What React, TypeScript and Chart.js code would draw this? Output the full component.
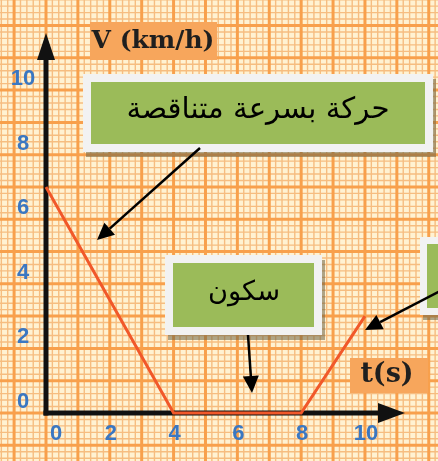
import React, { useEffect, useRef } from "react";
import { Chart, registerables } from "chart.js";

Chart.register(...registerables);

// ---- data ----
const TIMES = [0, 4, 8, 10];
const SPEEDS = [7, 0, 0, 3];
const X_TICKS = [0, 2, 4, 6, 8, 10];
const Y_TICKS = [0, 2, 4, 6, 8, 10];
const Y_TITLE = "V (km/h)";
const X_TITLE = "t(s)";
const LABEL_DECEL = "حركة بسرعة متناقصة";
const LABEL_REST = "سكون";

const W = 438;
const H = 461;

const BLUE = "#3a77c2";
const RED = "#f1582a";
const GREEN = "#9bbb59";
const FRAME = "#f2f2f2";
const TICK_FONT = "bold 22px 'Liberation Sans', Arial, sans-serif";

function arrow(ctx: CanvasRenderingContext2D, x1: number, y1: number, x2: number, y2: number, head: number, half: number, lw: number) {
  const ang = Math.atan2(y2 - y1, x2 - x1);
  const bx = x2 - head * Math.cos(ang);
  const by = y2 - head * Math.sin(ang);
  ctx.save();
  ctx.strokeStyle = "#000";
  ctx.fillStyle = "#000";
  ctx.lineWidth = lw;
  ctx.beginPath();
  ctx.moveTo(x1, y1);
  ctx.lineTo(bx, by);
  ctx.stroke();
  ctx.beginPath();
  ctx.moveTo(x2, y2);
  ctx.lineTo(bx + half * Math.sin(ang), by - half * Math.cos(ang));
  ctx.lineTo(bx - half * Math.sin(ang), by + half * Math.cos(ang));
  ctx.closePath();
  ctx.fill();
  ctx.restore();
}

function box(ctx: CanvasRenderingContext2D, x: number, y: number, w: number, h: number, b: number) {
  ctx.save();
  ctx.fillStyle = "rgba(110,100,70,0.55)";
  ctx.fillRect(x + 3, y + 5, w, h);
  ctx.fillStyle = FRAME;
  ctx.fillRect(x, y, w, h);
  ctx.fillStyle = GREEN;
  ctx.fillRect(x + b, y + b, w - 2 * b, h - 2 * b);
  ctx.restore();
}

const paperPlugin = {
  id: "paper",
  beforeDraw(chart: any) {
    const { ctx, scales } = chart;
    const xs = scales.x;
    const ys = scales.y;
    ctx.save();
    ctx.fillStyle = "#fff2d2";
    ctx.fillRect(0, 0, W, H);
    for (let pass = 0; pass < 2; pass++) {
      for (let i = -15; i <= 70; i++) {
        const major = i % 5 === 0;
        if ((pass === 0) === major) continue;
        const v = i / 5;
        ctx.strokeStyle = major ? "#f8a04c" : "#f6bd80";
        ctx.lineWidth = major ? 3 : 1.4;
        const px = xs.getPixelForValue(v);
        ctx.beginPath();
        ctx.moveTo(px, 0);
        ctx.lineTo(px, H);
        ctx.stroke();
        const py = ys.getPixelForValue(v);
        ctx.beginPath();
        ctx.moveTo(0, py);
        ctx.lineTo(W, py);
        ctx.stroke();
      }
    }
    ctx.restore();
  },
  beforeDatasetsDraw(chart: any) {
    const { ctx, scales } = chart;
    const xs = scales.x;
    const ys = scales.y;
    const x0 = xs.getPixelForValue(0);
    const y0 = ys.getPixelForValue(0);
    ctx.save();
    // tick labels from the scales
    ctx.fillStyle = BLUE;
    ctx.font = TICK_FONT;
    ctx.textAlign = "center";
    ctx.textBaseline = "middle";
    X_TICKS.forEach((v) => {
      const px = xs.getPixelForValue(v) + (v === 0 ? 10 : 1);
      ctx.fillText(String(v), px, y0 + 21);
    });
    Y_TICKS.forEach((v) => {
      ctx.fillText(String(v), x0 - 23, ys.getPixelForValue(v) - 11);
    });
    // title backgrounds
    ctx.fillStyle = "#f7a65c";
    ctx.fillRect(90, 22, 127, 38);
    ctx.fillRect(350, 358, 78, 35);
    ctx.fillStyle = "#1f1f1f";
    ctx.font = "bold 25px 'DejaVu Serif'";
    ctx.fillText(Y_TITLE, 153, 41);
    ctx.font = "bold 27px 'DejaVu Serif'";
    ctx.fillText(X_TITLE, 387, 375);
    // axes
    ctx.strokeStyle = "#111";
    ctx.fillStyle = "#111";
    ctx.lineWidth = 5;
    ctx.beginPath();
    ctx.moveTo(x0, y0 + 2.5);
    ctx.lineTo(x0, 58);
    ctx.stroke();
    ctx.beginPath();
    ctx.moveTo(x0 - 2.5, y0);
    ctx.lineTo(382, y0);
    ctx.stroke();
    ctx.beginPath();
    ctx.moveTo(x0, 33);
    ctx.lineTo(x0 + 9, 60);
    ctx.lineTo(x0 - 9, 60);
    ctx.closePath();
    ctx.fill();
    ctx.beginPath();
    ctx.moveTo(405, y0);
    ctx.lineTo(378, y0 - 10);
    ctx.lineTo(378, y0 + 10);
    ctx.closePath();
    ctx.fill();
    ctx.restore();
  },
  afterDraw(chart: any) {
    const { ctx } = chart;
    ctx.save();
    box(ctx, 83, 74, 350, 78, 8);
    box(ctx, 165, 255, 157, 80, 8);
    box(ctx, 420, 237, 60, 78, 7);
    ctx.fillStyle = "#000";
    ctx.textAlign = "center";
    ctx.textBaseline = "middle";
    ctx.direction = "rtl";
    ctx.font = "26px 'DejaVu Sans'";
    const w1 = ctx.measureText(LABEL_DECEL).width;
    const s1 = Math.min(34, (26 * 263) / w1);
    ctx.font = `${s1}px 'DejaVu Sans'`;
    ctx.fillText(LABEL_DECEL, 258, 110);
    ctx.font = "26px 'DejaVu Sans'";
    const w2 = ctx.measureText(LABEL_REST).width;
    const s2 = Math.min(34, (26 * 72) / w2);
    ctx.font = `${s2}px 'DejaVu Sans'`;
    ctx.fillText(LABEL_REST, 244, 293);
    ctx.restore();
    arrow(ctx, 200, 148, 97, 240, 17, 8, 2.5);
    arrow(ctx, 248, 335, 252, 393, 17, 8, 2.5);
    arrow(ctx, 440, 291, 365, 330, 17, 8, 2.5);
  },
};

export default function App() {
  const ref = useRef<HTMLCanvasElement | null>(null);
  useEffect(() => {
    document.body.style.margin = "0";
    const c = ref.current;
    if (!c) return;
    const chart = new Chart(c, {
      type: "line",
      data: {
        datasets: [
          {
            data: TIMES.map((t, i) => ({ x: t, y: SPEEDS[i] })),
            borderColor: RED,
            borderWidth: 3,
            pointRadius: 0,
            tension: 0,
            clip: false as any,
          },
        ],
      },
      options: {
        animation: false,
        responsive: false,
        layout: { padding: 0 },
        plugins: { legend: { display: false }, tooltip: { enabled: false } },
        scales: {
          x: { type: "linear", display: false, min: -1.442, max: 12.29 },
          y: { type: "linear", display: false, min: -1.487, max: 12.79 },
        },
      },
      plugins: [paperPlugin],
    });
    return () => chart.destroy();
  }, []);
  return (
    <div style={{ position: "fixed", left: 0, top: 0, width: W, height: H }}>
      <canvas ref={ref} width={W} height={H} style={{ display: "block", width: W, height: H }} />
    </div>
  );
}
